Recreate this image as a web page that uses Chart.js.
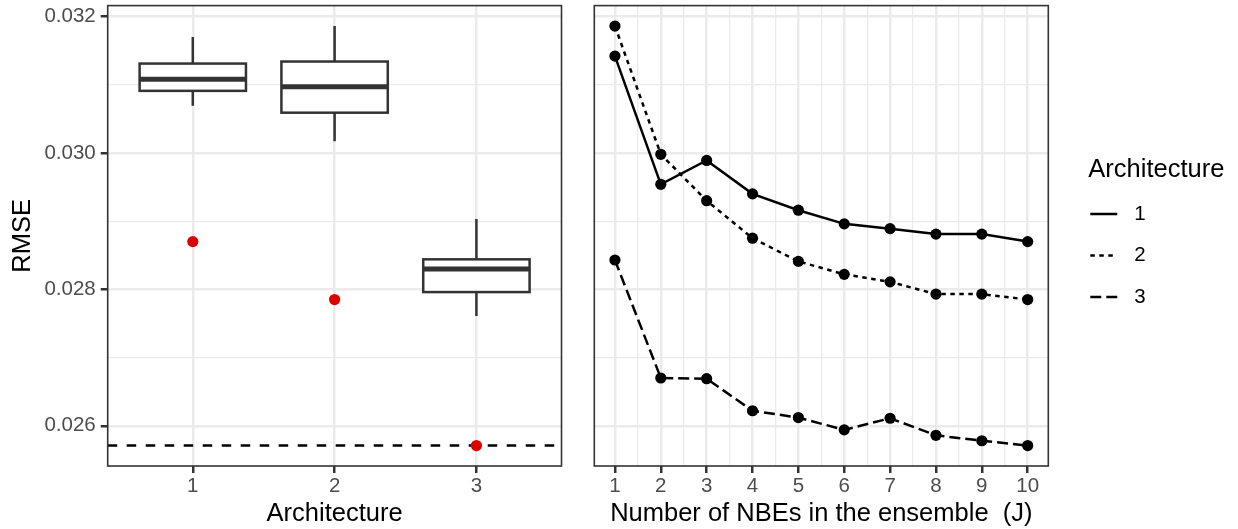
<!DOCTYPE html>
<html>
<head>
<meta charset="utf-8">
<title>RMSE by architecture</title>
<script src="https://cdn.jsdelivr.net/npm/chart.js@4/dist/chart.umd.min.js"></script>
<style>
  html, body { margin: 0; padding: 0; background: #fff; }
  #wrap { position: relative; width: 1238px; height: 529px; overflow: hidden; }
  #chart-box { position: absolute; left: 0; top: 0; }
  #chart-ens { position: absolute; left: 575px; top: 0; }
</style>
</head>
<body>
<div id="wrap">
  <canvas id="chart-box" width="575" height="529"></canvas>
  <canvas id="chart-ens" width="663" height="529"></canvas>
</div>
<script>
// ---- data -------------------------------------------------------------------
// per-architecture spread of single-NBE RMSE (boxplot stats)
const ARCHS    = [1, 2, 3];
const BOX_LOW  = [0.03069, 0.03017, 0.02761];
const BOX_Q1   = [0.03091, 0.03059, 0.02796];
const BOX_MED  = [0.03108, 0.03097, 0.02830];
const BOX_Q3   = [0.03131, 0.03134, 0.02844];
const BOX_HIGH = [0.03170, 0.03186, 0.02903];
// RMSE of the full ensemble (J = 10), red dots
const ENSEMBLE_RMSE = [0.02870, 0.02785, 0.02571];
const BEST_RMSE = 0.02571;

// ensemble size vs RMSE
const J_VALUES = [1, 2, 3, 4, 5, 6, 7, 8, 9, 10];
const RMSE_ARCH1 = [0.03142, 0.02954, 0.02989, 0.02940, 0.02916, 0.02896, 0.02889, 0.02881, 0.02881, 0.02870];
const RMSE_ARCH2 = [0.03186, 0.02998, 0.02930, 0.02875, 0.02841, 0.02822, 0.02811, 0.02793, 0.02793, 0.02785];
const RMSE_ARCH3 = [0.02843, 0.02670, 0.02669, 0.02622, 0.02612, 0.02594, 0.02611, 0.02586, 0.02578, 0.02571];

// axes
const Y_MIN = 0.02541, Y_MAX = 0.03216;
const Y_MAJOR = [0.026, 0.028, 0.030, 0.032];
const Y_MINOR = [0.027, 0.029, 0.031];
const J_MINOR = [1.5, 2.5, 3.5, 4.5, 5.5, 6.5, 7.5, 8.5, 9.5];

// ---- styling ----------------------------------------------------------------
const FONT = '"Liberation Sans", Arial, Helvetica, sans-serif';
const INK = '#333333';
const GRID = '#EBEBEB';
const TICK_TEXT = '#4D4D4D';
const LW = 2.5;
const TICK_SIZE = 20.5;
const TITLE_SIZE = 25.5;

Chart.defaults.font.family = FONT;
Chart.defaults.animation = false;

function tickList(major, minor) {
  return major.map(v => ({ value: v, minor: false }))
    .concat(minor.map(v => ({ value: v, minor: true })))
    .sort((a, b) => a.value - b.value);
}

function gridFor() {
  return {
    color: GRID,
    lineWidth: c => (c.tick && c.tick.minor ? LW / 2 : LW),
    tickColor: c => (c.tick && c.tick.minor ? 'rgba(0,0,0,0)' : INK),
    tickWidth: LW,
    tickLength: 7,
  };
}

// fixed axis box sizes so both panels line up; drop label overhang padding
function fixWidth(w) {
  return s => { s.width = w; s.paddingTop = 0; s.paddingBottom = 0; };
}
function fixHeight(h) {
  return s => { s.height = h; s.paddingLeft = 0; s.paddingRight = 0; };
}

const panelBorder = {
  id: 'panelBorder',
  afterDraw(chart) {
    const { ctx, chartArea: a } = chart;
    ctx.save();
    ctx.strokeStyle = INK;
    ctx.lineWidth = 1.6;
    ctx.strokeRect(a.left, a.top, a.right - a.left, a.bottom - a.top);
    ctx.restore();
  },
};

// boxes + whiskers, drawn through the chart scales
const boxplot = {
  id: 'boxplot',
  beforeDatasetsDraw(chart) {
    const { ctx, scales: { x, y } } = chart;
    ctx.save();
    ctx.strokeStyle = INK;
    ARCHS.forEach((a, i) => {
      const xl = x.getPixelForValue(a - 0.375);
      const xr = x.getPixelForValue(a + 0.375);
      const xc = x.getPixelForValue(a);
      const yq1 = y.getPixelForValue(BOX_Q1[i]);
      const yq3 = y.getPixelForValue(BOX_Q3[i]);
      ctx.lineWidth = LW;
      ctx.beginPath();
      ctx.moveTo(xc, y.getPixelForValue(BOX_HIGH[i])); ctx.lineTo(xc, yq3);
      ctx.moveTo(xc, yq1); ctx.lineTo(xc, y.getPixelForValue(BOX_LOW[i]));
      ctx.stroke();
      ctx.fillStyle = '#fff';
      ctx.fillRect(xl, yq3, xr - xl, yq1 - yq3);
      ctx.strokeRect(xl, yq3, xr - xl, yq1 - yq3);
      ctx.lineWidth = LW * 2;
      const ym = y.getPixelForValue(BOX_MED[i]);
      ctx.beginPath(); ctx.moveTo(xl, ym); ctx.lineTo(xr, ym); ctx.stroke();
    });
    ctx.restore();
  },
};

// ---- left panel: boxplots per architecture ------------------------------------
new Chart(document.getElementById('chart-box'), {
  type: 'scatter',
  data: {
    datasets: [
      {
        label: 'ensemble',
        data: ARCHS.map((a, i) => ({ x: a, y: ENSEMBLE_RMSE[i] })),
        pointRadius: 5.6,
        pointBackgroundColor: '#DC0000',
        pointBorderWidth: 0,
      },
      {
        type: 'line',
        label: 'best',
        data: [{ x: 0.4, y: BEST_RMSE }, { x: 3.6, y: BEST_RMSE }],
        borderColor: '#000',
        borderWidth: LW,
        borderDash: [9.5, 9.5],
        pointRadius: 0,
      },
    ],
  },
  options: {
    responsive: false,
    layout: { padding: { top: 5, right: 13.5, bottom: 0, left: 0 } },
    plugins: { legend: { display: false }, tooltip: { enabled: false } },
    scales: {
      x: {
        type: 'linear', min: 0.4, max: 3.6,
        afterBuildTicks: s => { s.ticks = tickList(ARCHS, []); },
        afterFit: fixHeight(63),
        grid: gridFor(),
        border: { display: false },
        ticks: { color: TICK_TEXT, font: { size: TICK_SIZE }, padding: 1, callback: v => String(v) },
        title: { display: true, text: 'Architecture', color: '#000', font: { size: TITLE_SIZE }, padding: { top: 0, bottom: 0 } },
      },
      y: {
        type: 'linear', min: Y_MIN, max: Y_MAX,
        afterBuildTicks: s => { s.ticks = tickList(Y_MAJOR, Y_MINOR); },
        afterFit: fixWidth(107.7),
        grid: gridFor(),
        border: { display: false },
        ticks: {
          color: TICK_TEXT, font: { size: TICK_SIZE }, padding: 5,
          callback: (v, i, t) => (t[i].minor ? '' : v.toFixed(3)),
        },
        title: { display: true, text: 'RMSE', color: '#000', font: { size: TITLE_SIZE }, padding: { top: 8, bottom: 0 } },
      },
    },
  },
  plugins: [boxplot, panelBorder],
});

// ---- right panel: RMSE against ensemble size ---------------------------------
const archLegend = {
  id: 'archLegend',
  afterDraw(chart) {
    const { ctx } = chart;
    const x0 = chart.chartArea.right + 40;
    ctx.save();
    ctx.fillStyle = '#000';
    ctx.textBaseline = 'middle';
    ctx.font = TITLE_SIZE + 'px ' + FONT;
    ctx.fillText('Architecture', x0, 170);
    chart.data.datasets.forEach((ds, i) => {
      const y = 214 + i * 41.5;
      ctx.strokeStyle = ds.borderColor;
      ctx.lineWidth = ds.borderWidth;
      ctx.setLineDash(ds.borderDash || []);
      ctx.beginPath(); ctx.moveTo(x0 + 2, y); ctx.lineTo(x0 + 29, y); ctx.stroke();
      ctx.setLineDash([]);
      ctx.font = TICK_SIZE + 'px ' + FONT;
      ctx.fillText(ds.label, x0 + 46, y);
    });
    ctx.restore();
  },
};

function series(label, values, dash) {
  return {
    label,
    data: J_VALUES.map((j, i) => ({ x: j, y: values[i] })),
    borderColor: '#000',
    borderWidth: LW,
    borderDash: dash,
    pointRadius: 5.6,
    pointBackgroundColor: '#000',
    pointBorderWidth: 0,
    tension: 0,
  };
}

new Chart(document.getElementById('chart-ens'), {
  type: 'line',
  data: {
    datasets: [
      series('1', RMSE_ARCH1, []),
      series('2', RMSE_ARCH2, [4.5, 4.5]),
      series('3', RMSE_ARCH3, [11, 5]),
    ],
  },
  options: {
    responsive: false,
    layout: { padding: { top: 5, right: 189.7, bottom: 0, left: 0 } },
    plugins: { legend: { display: false }, tooltip: { enabled: false } },
    scales: {
      x: {
        type: 'linear', min: 0.55, max: 10.45,
        afterBuildTicks: s => { s.ticks = tickList(J_VALUES, J_MINOR); },
        afterFit: fixHeight(63),
        grid: gridFor(),
        border: { display: false },
        ticks: {
          color: TICK_TEXT, font: { size: TICK_SIZE }, padding: 1, autoSkip: false, maxRotation: 0,
          callback: (v, i, t) => (t[i].minor ? '' : String(v)),
        },
        title: { display: true, text: 'Number of NBEs in the ensemble  (J)', color: '#000', font: { size: TITLE_SIZE }, padding: { top: 0, bottom: 0 } },
      },
      y: {
        type: 'linear', min: Y_MIN, max: Y_MAX,
        afterBuildTicks: s => { s.ticks = tickList(Y_MAJOR, Y_MINOR); },
        afterFit: fixWidth(19.3),
        grid: Object.assign(gridFor(), { drawTicks: false }),
        border: { display: false },
        ticks: { display: false },
      },
    },
  },
  plugins: [panelBorder, archLegend],
});
</script>
</body>
</html>
